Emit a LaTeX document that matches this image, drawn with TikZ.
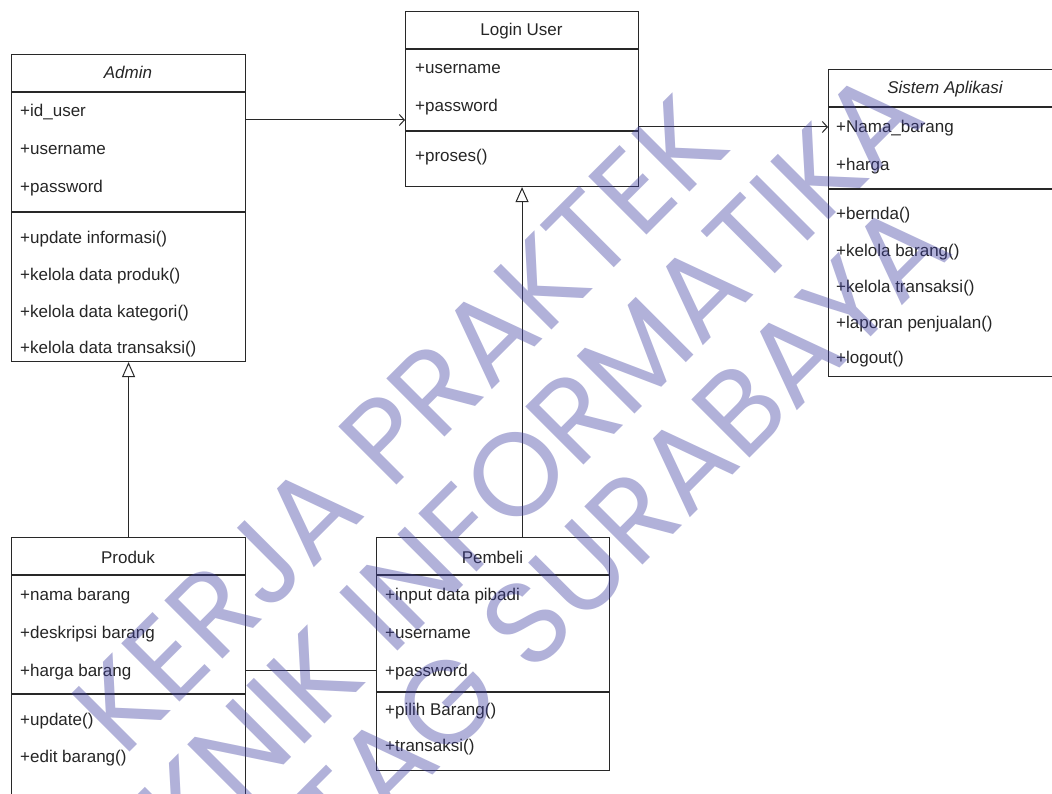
\documentclass[tikz,border=0pt]{standalone}
\usepackage{fontspec}
\usetikzlibrary{arrows.meta,calc}
\newfontfamily\umlfont{Liberation Sans}
\newfontfamily\wmfont{Poppins}
\newcommand\umlsize{\umlfont\fontsize{17}{20}\selectfont}
\definecolor{wmc}{RGB}{60,60,160}
\definecolor{ln}{RGB}{40,40,40}
\tikzset{
  cls/.style={draw=ln, line width=1.1pt, anchor=north west, inner sep=0pt},
  sep/.style={draw=ln, line width=1.1pt},
  itm/.style={anchor=base west, inner sep=0pt, font=\umlsize, text=black!85},
  ttl/.style={anchor=base, inner sep=0pt, font=\umlsize, text=black!85},
  assoc/.style={draw=ln, line width=1pt, -{Straight Barb[length=5pt,width=11pt,line width=1pt]}},
  gen/.style={draw=ln, line width=1pt, -{Triangle[open,length=15pt,width=13pt,line width=1pt,fill=white]}},
  plain/.style={draw=ln, line width=1pt},
  wm/.style={anchor=base west, inner sep=0pt, font=\wmfont\fontsize{118}{120}\selectfont, rotate=45, text=wmc, text opacity=0.4},
}
\begin{document}
\begin{tikzpicture}[x=1pt,y=-1pt]
\clip (0,0) rectangle (1052,794);
\fill[white] (0,0) rectangle (1052,794);

% Admin
\node[cls, minimum width=234pt, minimum height=307pt] (admin) at (11,54) {};
\draw[sep] (11,92) -- (245,92);
\draw[sep] (11,212) -- (245,212);
\node[ttl, font=\umlsize\itshape] (adminT) at (128,79) {Admin};
\node[itm] (a1) at (20,117) {+id\_user};
\node[itm] (a2) at (20,155) {+username};
\node[itm] (a3) at (20,193) {+password};
\node[itm] (a4) at (20,244) {+update informasi()};
\node[itm] (a5) at (20,281) {+kelola data produk()};
\node[itm] (a6) at (20,317) {+kelola data kategori()};
\node[itm] (a7) at (20,353) {+kelola data transaksi()};

% Login User
\node[cls, minimum width=233pt, minimum height=175pt] (login) at (405,11) {};
\draw[sep] (405,49) -- (638,49);
\draw[sep] (405,131) -- (638,131);
\node[ttl] (loginT) at (521.5,36) {Login User};
\node[itm] (l1) at (415,74) {+username};
\node[itm] (l2) at (415,112) {+password};
\node[itm] (l3) at (415,162) {+proses()};

% Sistem Aplikasi
\node[cls, minimum width=234pt, minimum height=307pt] (sistem) at (828,69) {};
\draw[sep] (828,107) -- (1062,107);
\draw[sep] (828,189) -- (1062,189);
\node[ttl, font=\umlsize\itshape] (sistemT) at (945,94) {Sistem Aplikasi};
\node[itm] (s1) at (836,133) {+Nama\_barang};
\node[itm] (s2) at (836,171) {+harga};
\node[itm] (s3) at (836,220) {+bernda()};
\node[itm] (s4) at (836,257) {+kelola barang()};
\node[itm] (s5) at (836,293) {+kelola transaksi()};
\node[itm] (s6) at (836,328) {+laporan penjualan()};
\node[itm] (s7) at (836,363) {+logout()};

% Produk
\node[cls, minimum width=234pt, minimum height=290pt] (produk) at (11,537) {};
\draw[sep] (11,575) -- (245,575);
\draw[sep] (11,694) -- (245,694);
\node[ttl] (produkT) at (128,563) {Produk};
\node[itm] (p1) at (20,600) {+nama barang};
\node[itm] (p2) at (20,638) {+deskripsi barang};
\node[itm] (p3) at (20,676) {+harga barang};
\node[itm] (p4) at (20,725) {+update()};
\node[itm] (p5) at (20,762) {+edit barang()};

% Pembeli
\node[cls, minimum width=233pt, minimum height=233pt] (pembeli) at (376,537) {};
\draw[sep] (376,575) -- (609,575);
\draw[sep] (376,692) -- (609,692);
\node[ttl] (pembeliT) at (492.5,563) {Pembeli};
\node[itm] (b1) at (385,600) {+input data pibadi};
\node[itm] (b2) at (385,638) {+username};
\node[itm] (b3) at (385,676) {+password};
\node[itm] (b4) at (385,715) {+pilih Barang()};
\node[itm] (b5) at (385,751) {+transaksi()};

% connectors
\draw[assoc] ([yshift=-66pt]admin.north east) -- ([yshift=-66pt]admin.north east -| login.west);
\draw[assoc] ([yshift=-116pt]login.north east) -- ([yshift=-116pt]login.north east -| sistem.west);
\draw[gen] (produk.north) -- (admin.south);
\draw[gen] (pembeli.north -| login.south) -- (login.south);
\draw[plain] ([yshift=-133pt]produk.north east) -- ([yshift=-133pt]produk.north east -| pembeli.west);

% watermark
\node[wm, anchor=base east] (w1a) at (368,514) {KERJA};
\node[wm] (w1b) at (390,492) {PRAKTEK};
\node[wm, anchor=base east] (w2a) at (369,680) {TEKNIK};
\node[wm] (w2b) at (391,658) {INFORMATIKA};
\node[wm, anchor=base east] (w3a) at (509,699) {UNTAG};
\node[wm] (w3b) at (531,677) {SURABAYA};
\end{tikzpicture}
\end{document}
